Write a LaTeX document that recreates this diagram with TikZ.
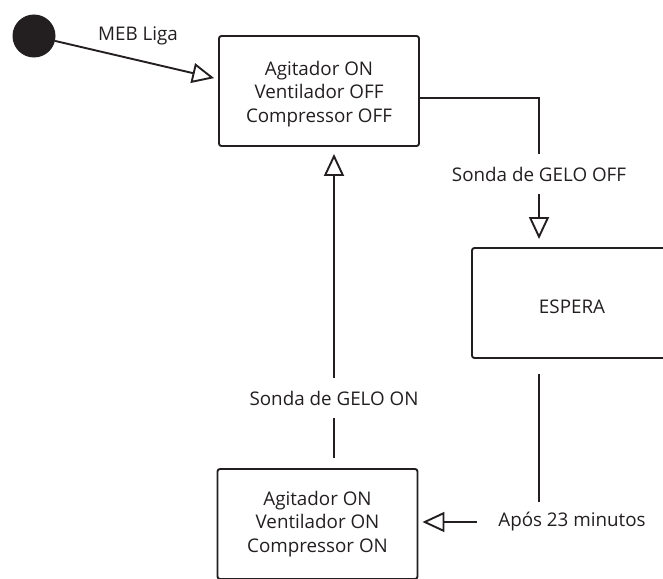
\documentclass[tikz,border=0pt]{standalone}
\usepackage{fontspec}
\setmainfont{Open Sans}
\usetikzlibrary{arrows.meta,calc}
\definecolor{ink}{RGB}{35,31,32}
\begin{document}
\begin{tikzpicture}[x=1pt,y=-1pt,
  every node/.style={text=ink,font=\fontsize{18.8}{23.8}\selectfont},
  state/.style={draw=ink,line width=1.9pt,rounded corners=2.5pt,
    minimum width=200pt,minimum height=110pt,inner sep=0pt},
  body/.style={align=center,inner sep=0pt},
  cond/.style={minimum height=40pt,inner sep=0pt,inner xsep=21.5pt},
  link/.style={draw=ink,line width=1.9pt},
  arr/.style={link,-{Triangle[open,length=22pt,width=20pt,line width=1.9pt]}}]
\useasboundingbox (0,0) rectangle (663,578);

% initial state and the three state boxes
\node[circle,fill=ink,minimum size=43pt,inner sep=0pt] (start) at (34,36) {};
\node[state] (s1) at (319,91) {};
\node[state] (wait) at (572,303) {};
\node[state] (s3) at (317.5,524) {};

% state contents
\node[body] (s1txt) at ([yshift=-3pt]s1.center) {Agitador ON\\Ventilador OFF\\Compressor OFF};
\node[body] (waittxt) at ([yshift=-4pt]wait.center) {ESPERA};
\node[body] (s3txt) at (s3.center) {Agitador ON\\Ventilador ON\\Compressor ON};

% transition labels
\node (lblStart) at (138,36) {MEB Liga};
\node[cond] (lblOff) at (539,174) {Sonda de GELO OFF};
\node[cond] (lblOn) at (334,398) {Sonda de GELO ON};
\node[cond] (lblTime) at (572,522) {Após 23 minutos};

% transitions
\draw[arr,shorten >=4pt] (start) -- ([yshift=12pt]s1.west);
\draw[link] ([yshift=-7pt]s1.east) -| (lblOff.north);
\draw[arr,shorten >=8pt] (lblOff.south) -- (lblOff.south |- wait.north);
\draw[link,shorten <=15pt] (lblOff.south |- wait.south) -- (lblOff.south |- lblTime.north);
\draw[arr,shorten >=4pt] (lblTime.west) -- (s3.east |- lblTime.west);
\draw[link,shorten <=10pt] (lblOn.south |- s3.north) -- (lblOn.south);
\draw[arr,shorten >=7pt] (lblOn.north) -- (lblOn.north |- s1.south);
\end{tikzpicture}
\end{document}
